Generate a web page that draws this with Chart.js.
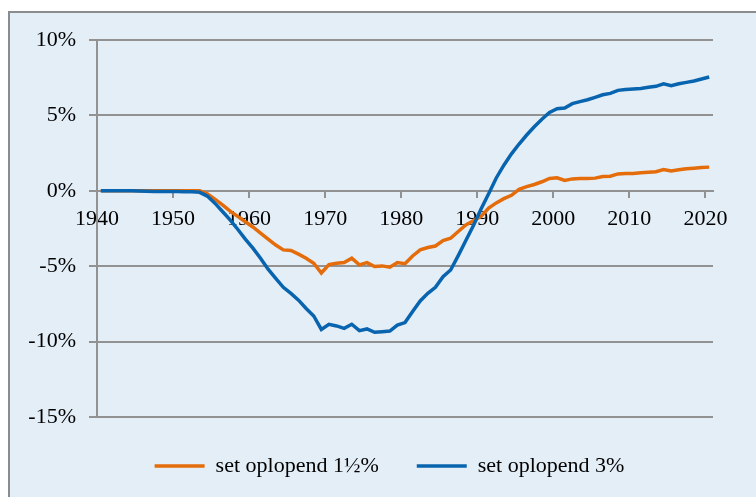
<!DOCTYPE html>
<html>
<head>
<meta charset="utf-8">
<script src="https://cdn.jsdelivr.net/npm/chart.js@4/dist/chart.umd.min.js"></script>
<style>
  html, body { margin: 0; padding: 0; background: #fff; overflow: hidden; }
  #wrap { position: relative; width: 756px; height: 497px; }
  #frame {
    position: absolute; left: 8px; top: 11px; width: 780px; height: 520px;
    background: #e4eef7; border: 2px solid #8c8c8c;
  }
  #chart { position: absolute; left: 0; top: 0; }
</style>
</head>
<body>
<div id="wrap">
  <div id="frame"></div>
  <canvas id="chart" width="756" height="497"></canvas>
</div>
<script>
// jaartallen (punten staan midden in het jaar)
const years = [
  1940, 1941, 1942, 1943, 1944, 1945, 1946, 1947, 1948, 1949,
  1950, 1951, 1952, 1953, 1954, 1955, 1956, 1957, 1958, 1959,
  1960, 1961, 1962, 1963, 1964, 1965, 1966, 1967, 1968, 1969,
  1970, 1971, 1972, 1973, 1974, 1975, 1976, 1977, 1978, 1979,
  1980, 1981, 1982, 1983, 1984, 1985, 1986, 1987, 1988, 1989,
  1990, 1991, 1992, 1993, 1994, 1995, 1996, 1997, 1998, 1999,
  2000, 2001, 2002, 2003, 2004, 2005, 2006, 2007, 2008, 2009,
  2010, 2011, 2012, 2013, 2014, 2015, 2016, 2017, 2018, 2019,
  2020
];

// set oplopend 1½% (in %)
const oplopend15 = [
  0, 0, 0, 0, 0, 0, 0, 0, 0, 0,
  0, 0, 0, 0, -0.2, -0.55, -0.93, -1.35, -1.7, -2.05,
  -2.4, -2.8, -3.2, -3.6, -3.92, -3.96, -4.2, -4.47, -4.8, -5.45,
  -4.89, -4.8, -4.76, -4.47, -4.91, -4.76, -5.02, -4.98, -5.07, -4.76,
  -4.83, -4.32, -3.92, -3.76, -3.66, -3.3, -3.15, -2.7, -2.27, -1.98,
  -1.7, -1.15, -0.8, -0.52, -0.3, 0.1, 0.28, 0.42, 0.6, 0.82,
  0.86, 0.69, 0.79, 0.81, 0.81, 0.84, 0.95, 0.97, 1.12, 1.14,
  1.15, 1.19, 1.23, 1.27, 1.41, 1.31, 1.39, 1.46, 1.5, 1.54,
  1.57
];

// set oplopend 3% (in %)
const oplopend3 = [
  0, 0, 0, 0, 0, -0.02, -0.03, -0.04, -0.04, -0.05,
  -0.05, -0.06, -0.07, -0.1, -0.35, -0.82, -1.37, -1.93, -2.55, -3.2,
  -3.8, -4.47, -5.2, -5.8, -6.4, -6.8, -7.25, -7.8, -8.3, -9.19,
  -8.85, -8.96, -9.12, -8.85, -9.27, -9.16, -9.38, -9.34, -9.3, -8.9,
  -8.74, -8.0, -7.3, -6.8, -6.4, -5.7, -5.25, -4.3, -3.3, -2.3,
  -1.2, -0.2, 0.85, 1.7, 2.45, 3.1, 3.7, 4.25, 4.75, 5.2,
  5.44, 5.49, 5.78, 5.91, 6.04, 6.2, 6.37, 6.46, 6.66, 6.71,
  6.75, 6.79, 6.86, 6.93, 7.1, 6.97, 7.1, 7.19, 7.28, 7.41,
  7.55
];

const seriesNames = ['set oplopend 1½%', 'set oplopend 3%'];
const yTicks = [-15, -10, -5, 0, 5, 10];

const gridColor = '#929292';
const font = { family: '"Liberation Serif", serif', size: 22 };

const toPoints = vals => years.map((yr, i) => ({ x: yr + 0.5, y: vals[i] }));

// legenda staat in het origineel iets rechts van het midden
const shiftLegend = {
  id: 'shiftLegend',
  afterLayout(chart) {
    chart.legend.left += 33;
    chart.legend.right += 33;
  }
};

new Chart(document.getElementById('chart'), {
  type: 'line',
  data: {
    datasets: [
      {
        label: seriesNames[0],
        data: toPoints(oplopend15),
        borderColor: '#e46c0a',
        backgroundColor: '#e46c0a',
        borderWidth: 3.5,
        pointRadius: 0,
        tension: 0,
        order: 2
      },
      {
        label: seriesNames[1],
        data: toPoints(oplopend3),
        borderColor: '#0864ae',
        backgroundColor: '#0864ae',
        borderWidth: 3.5,
        pointRadius: 0,
        tension: 0,
        order: 1
      }
    ]
  },
  plugins: [shiftLegend],
  options: {
    responsive: false,
    animation: false,
    layout: { padding: { left: 0, right: 43, top: 40, bottom: 10 } },
    plugins: {
      tooltip: { enabled: false },
      legend: {
        position: 'bottom',
        labels: {
          usePointStyle: true,
          pointStyle: 'line',
          pointStyleWidth: 50,
          padding: 38,
          color: '#000',
          font: font,
          sort: (a, b) => a.datasetIndex - b.datasetIndex
        }
      }
    },
    scales: {
      x: {
        type: 'linear',
        position: { y: 0 },
        min: 1940,
        max: 2021,
        grid: { drawOnChartArea: false, drawTicks: true, tickLength: 6, color: gridColor, lineWidth: 2 },
        border: { display: true, color: gridColor, width: 2 },
        ticks: {
          stepSize: 10,
          includeBounds: false,
          padding: 9,
          color: '#000',
          font: font,
          maxRotation: 0,
          callback: v => String(v)
        }
      },
      y: {
        min: -15,
        max: 10,
        afterFit: s => { s.width = 97; },
        afterBuildTicks: s => { s.ticks = yTicks.map(v => ({ value: v })); },
        grid: { color: gridColor, lineWidth: 2, tickLength: 8 },
        border: { display: true, color: gridColor, width: 2 },
        ticks: {
          padding: 13,
          color: '#000',
          font: font,
          callback: v => v + '%'
        }
      }
    }
  }
});
</script>
</body>
</html>
